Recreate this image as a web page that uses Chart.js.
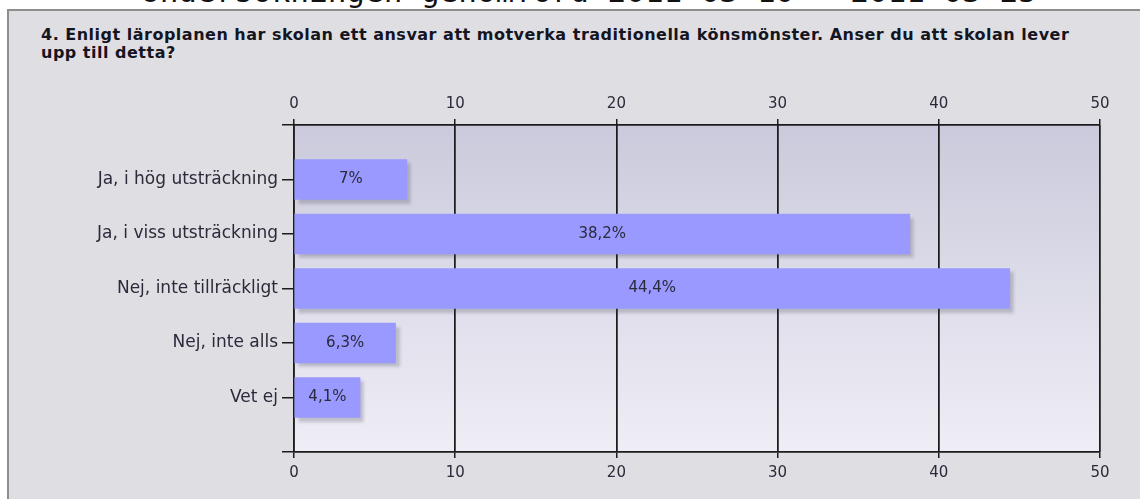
<!DOCTYPE html>
<html>
<head>
<meta charset="utf-8">
<script src="https://cdn.jsdelivr.net/npm/chart.js@4.4.0/dist/chart.umd.min.js"></script>
<style>
  html, body { margin: 0; padding: 0; background: #fff; overflow: hidden; }
  #header {
    position: absolute; left: 141px; top: -27px;
    font-family: "DejaVu Sans Mono", monospace; font-size: 31px; line-height: 36px;
    color: #111; white-space: nowrap; z-index: 0;
  }
  #panel {
    position: absolute; left: 7px; top: 9px; width: 1150px; height: 520px;
    background: #dfdee3; border-top: 2px solid #8e8e8e; border-left: 2px solid #8e8e8e;
    z-index: 1;
  }
  #title {
    position: absolute; left: 41px; top: 26px; width: 1095px;
    font-family: "DejaVu Sans", sans-serif; font-weight: bold; font-size: 16px; line-height: 18px;
    letter-spacing: 0.5px; color: #15151f; z-index: 2; white-space: nowrap;
  }
  #wrap { position: absolute; left: 0; top: 0; width: 1140px; height: 499px; z-index: 3; }
</style>
</head>
<body>
<div id="header">Undersökningen genomförd 2011-03-10 - 2011-03-25</div>
<div id="panel"></div>
<div id="title">4. Enligt läroplanen har skolan ett ansvar att motverka traditionella könsmönster. Anser du att skolan lever<br>upp till detta?</div>
<div id="wrap"><canvas id="chart" width="1140" height="499"></canvas></div>
<script>
"use strict";

// blank first/last slots keep the spacing of the original axis
const categories = ['', 'Ja, i hög utsträckning', 'Ja, i viss utsträckning', 'Nej, inte tillräckligt', 'Nej, inte alls', 'Vet ej', ''];
const percentValues = [null, 7, 38.2, 44.4, 6.3, 4.1, null];
const valueLabels = [null, '7%', '38,2%', '44,4%', '6,3%', '4,1%', null];
const xTicks = [0, 10, 20, 30, 40, 50];

const AXIS_COLOR = '#1c1c1c';
const TEXT_COLOR = '#2a2a3a';

/**
 * Paints the gradient behind the plot area.
 */
const plotBackground = {
    id: 'plotBackground',
    beforeDraw(chart) {
        const { ctx, chartArea } = chart;
        const grad = ctx.createLinearGradient(0, chartArea.top, 0, chartArea.bottom);
        grad.addColorStop(0, '#cbcadc');
        grad.addColorStop(1, '#efeef6');
        ctx.save();
        ctx.fillStyle = grad;
        ctx.fillRect(chartArea.left, chartArea.top, chartArea.right - chartArea.left, chartArea.bottom - chartArea.top);
        ctx.restore();
    }
};

const barShadow = {
    id: 'barShadow',
    beforeDatasetsDraw(chart) {
        const ctx = chart.ctx;
        ctx.save();
        ctx.shadowColor = 'rgba(60, 60, 80, 0.25)';
        ctx.shadowBlur = 3;
        ctx.shadowOffsetX = 4;
        ctx.shadowOffsetY = 4;
    },
    afterDatasetsDraw(chart) {
        chart.ctx.restore();
    }
};

const barLabels = {
    id: 'barLabels',
    afterDatasetsDraw(chart) {
        const ctx = chart.ctx;
        const meta = chart.getDatasetMeta(0);
        ctx.save();
        ctx.font = '15px "DejaVu Sans"';
        ctx.fillStyle = TEXT_COLOR;
        ctx.textAlign = 'center';
        ctx.textBaseline = 'middle';
        meta.data.forEach((bar, i) => {
            if (valueLabels[i] === null) return;
            ctx.fillText(valueLabels[i], (bar.x + bar.base) / 2, bar.y);
        });
        ctx.restore();
    }
};

function xAxis(position, height, pad) {
    return {
        type: 'linear',
        position: position,
        min: 0,
        max: 50,
        afterBuildTicks: (scale) => { scale.ticks = xTicks.map(v => ({ value: v })); },
        afterFit: (scale) => { scale.height = height; },
        border: { display: true, color: AXIS_COLOR, width: 1.5 },
        grid: { color: AXIS_COLOR, lineWidth: 1.5, tickLength: 6, drawOnChartArea: true },
        ticks: { color: TEXT_COLOR, font: { family: 'DejaVu Sans', size: 15 }, padding: pad, maxRotation: 0 }
    };
}

new Chart(document.getElementById('chart'), {
    type: 'bar',
    data: {
        labels: categories,
        datasets: [{
            data: percentValues,
            backgroundColor: '#9999ff',
            borderWidth: 0,
            barThickness: 40,
            xAxisID: 'x',
            yAxisID: 'y'
        }]
    },
    options: {
        indexAxis: 'y',
        responsive: false,
        animation: false,
        layout: { padding: { left: 0, right: 40, top: 0, bottom: 0 } },
        plugins: {
            legend: { display: false },
            tooltip: { enabled: false }
        },
        scales: {
            x: xAxis('top', 125, 6),
            x2: xAxis('bottom', 47, 6),
            y: {
                type: 'category',
                offset: false,
                afterFit: (scale) => { scale.width = 294; },
                border: { display: true, color: AXIS_COLOR, width: 1.5 },
                grid: {
                    offset: false,
                    color: (c) => (c.index === 0 || c.index === categories.length - 1) ? AXIS_COLOR : 'rgba(0,0,0,0)',
                    tickColor: AXIS_COLOR,
                    lineWidth: 1.5,
                    tickLength: 12
                },
                ticks: { color: TEXT_COLOR, font: { family: 'DejaVu Sans', size: 17 }, padding: 4, autoSkip: false }
            }
        }
    },
    plugins: [plotBackground, barShadow, barLabels]
});
</script>
</body>
</html>
